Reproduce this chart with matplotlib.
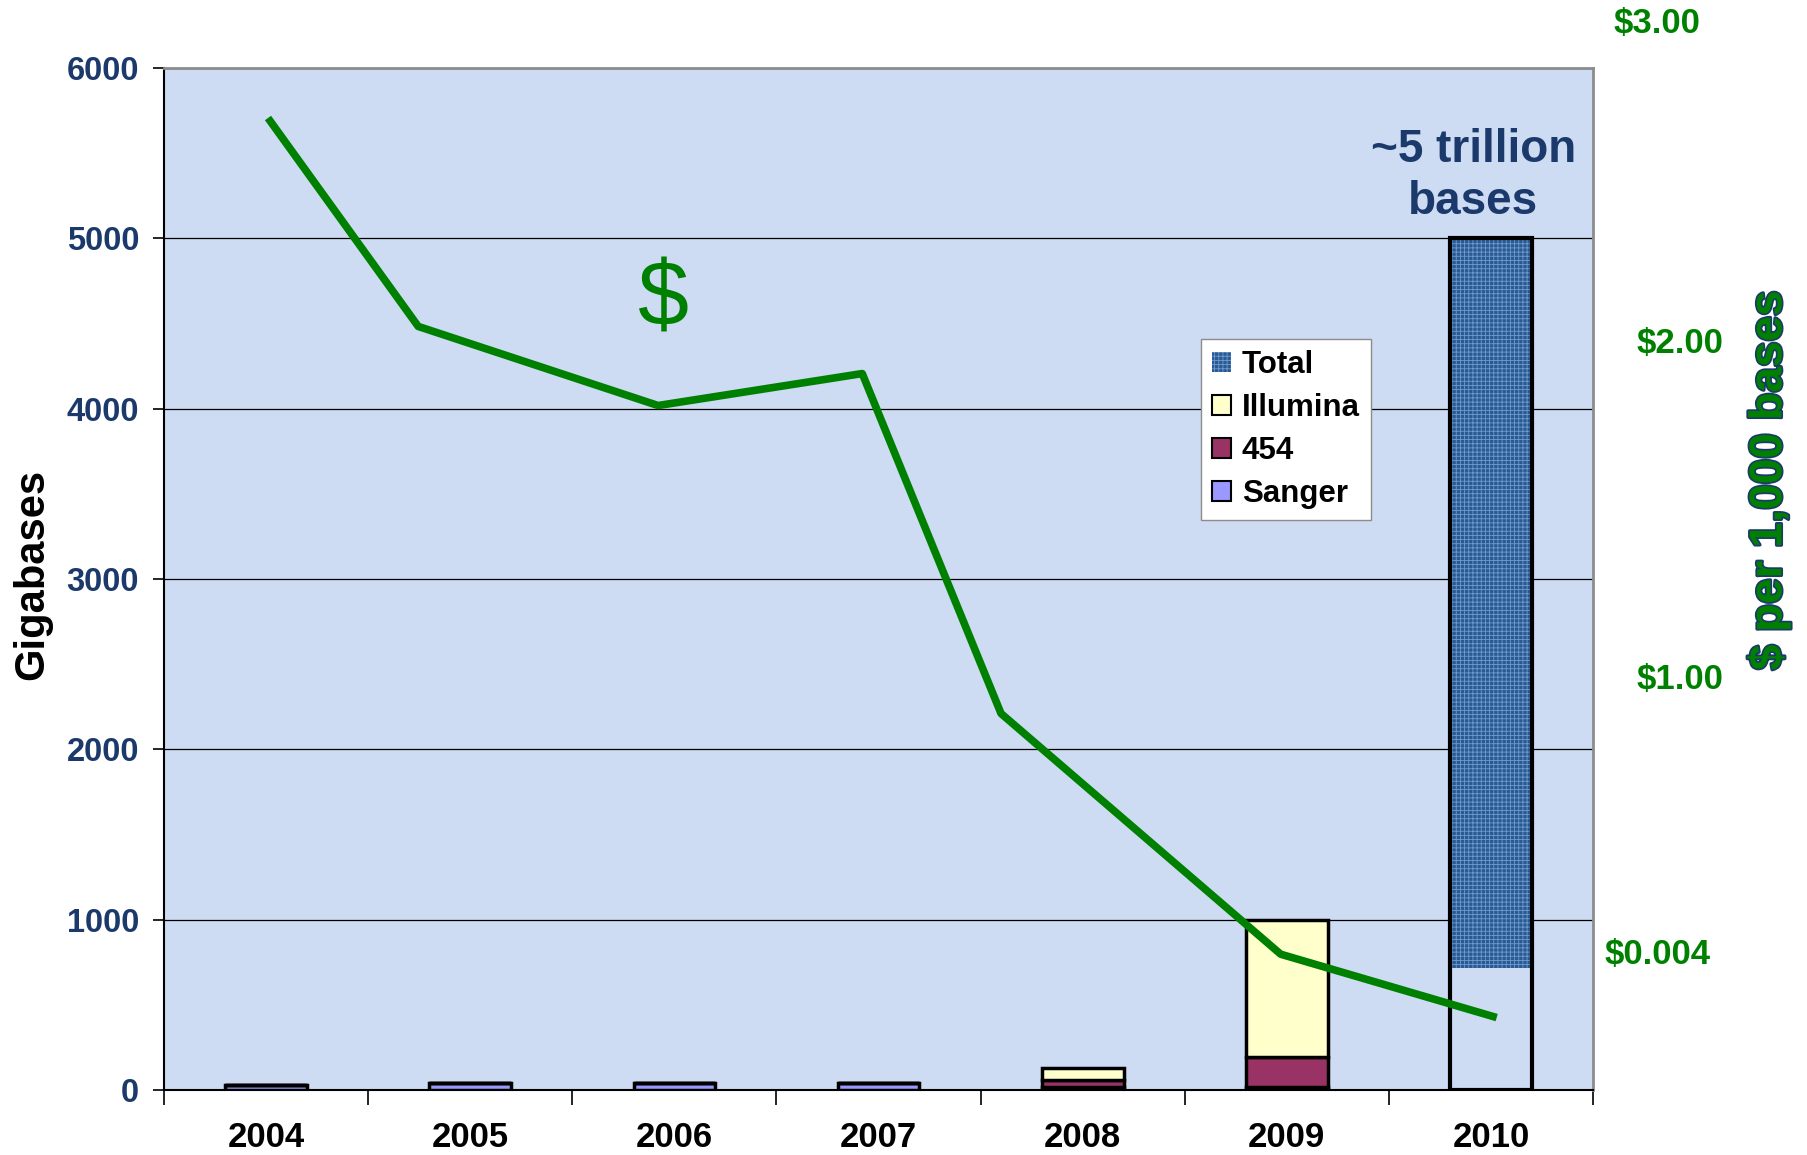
import matplotlib
matplotlib.use('Agg')
import matplotlib.pyplot as plt
import matplotlib.patheffects as pe
from matplotlib.patches import Patch
from matplotlib.ticker import FixedLocator

# sequencing output (gigabases), stacked by platform
years = ['2004', '2005', '2006', '2007', '2008', '2009', '2010']
sanger = [30, 40, 40, 44, 18, 18, 0]
gs454 = [0, 0, 0, 0, 40, 175, 0]
illumina = [0, 0, 0, 0, 71, 807, 0]
total_2010 = 5000
total_fill_from = 720   # the textured fill only starts here in the original

# cost curve ($ per 1,000 bases), drawn at these category positions
cost_x = [0.02, 0.745, 1.92, 2.92, 3.6, 4.97, 6.01]
cost = [2.66, 2.05, 1.815, 1.91, 0.90, 0.185, 0.0]

# right-hand labels and where they sit on the cost scale
right_labels = ['$0.004', '$1.00', '$2.00', '$3.00']
right_label_pos = [0.185, 1.0, 2.0, 2.95]

NAVY = '#1b3a6b'
GREEN = '#008000'
SANGER_C = '#9999ff'
C454 = '#993366'
ILLUM_C = '#ffffcc'
TOTAL_C = '#2a5a92'

plt.rcParams['font.family'] = ['Liberation Sans', 'DejaVu Sans']
plt.rcParams['font.weight'] = 'bold'
plt.rcParams['hatch.linewidth'] = 0.6

fig = plt.figure(figsize=(18.07, 11.55), dpi=100)
ax = fig.add_axes([0.0908, 0.0561, 0.7908, 0.8851])
ax.set_facecolor('#cddcf3')

x = list(range(len(years)))
w = 0.4
bottom454 = sanger
bottomill = [a + b for a, b in zip(sanger, gs454)]
ax.bar(x, sanger, w, color=SANGER_C, edgecolor='black', linewidth=2.5, zorder=3)
ax.bar(x, gs454, w, bottom=bottom454, color=C454, edgecolor='black', linewidth=2.5, zorder=3)
ax.bar(x, illumina, w, bottom=bottomill, color=ILLUM_C, edgecolor='black', linewidth=2.5, zorder=3)

# 2010 total: textured fill plus full outline
ax.bar(6, total_2010 - total_fill_from, w, bottom=total_fill_from, color=TOTAL_C,
       edgecolor='#6f9ad0', hatch='++++', linewidth=0, zorder=3)
ax.bar(6, total_2010, w, facecolor='none', edgecolor='black', linewidth=3, zorder=4)

ax.set_xlim(-0.5, 6.5)
ax.set_ylim(0, 6000)
ax.set_yticks(range(0, 6001, 1000))
ax.yaxis.grid(True, color='black', linewidth=0.9)
ax.set_axisbelow(True)

ax.set_xticks(x)
ax.set_xticklabels(years)
ax.xaxis.set_minor_locator(FixedLocator([i - 0.5 for i in range(8)]))
ax.tick_params(axis='x', which='major', length=0, pad=22, labelsize=25)
ax.tick_params(axis='x', which='minor', length=11, width=1.2, direction='out', color='black')
ax.tick_params(axis='y', length=8, width=1.2, pad=10, labelsize=23.5, labelcolor=NAVY)

for s in ['top', 'right']:
    ax.spines[s].set_color('#8c8c8c')
    ax.spines[s].set_linewidth(2)
ax.spines['left'].set_linewidth(1.5)
ax.spines['bottom'].set_linewidth(1.5)

ax.set_ylabel('Gigabases', fontsize=30, fontweight='bold', color='black')
ax.yaxis.set_label_coords(-0.078, 0.505)

ax.text(5.914, 5365, '~5 trillion\nbases', ha='center', va='center', fontsize=33,
        fontweight='bold', color=NAVY, linespacing=1.22, zorder=5)
ax.text(1.947, 4628, '$', ha='center', va='center', fontsize=66, fontweight='normal',
        color=GREEN, zorder=5)

handles = [Patch(facecolor=TOTAL_C, edgecolor='#6f9ad0', hatch='++++', linewidth=0),
           Patch(facecolor=ILLUM_C, edgecolor='black', linewidth=1.5),
           Patch(facecolor=C454, edgecolor='black', linewidth=1.5),
           Patch(facecolor=SANGER_C, edgecolor='black', linewidth=1.5)]
leg = ax.legend(handles, ['Total', 'Illumina', '454', 'Sanger'], loc='upper left',
                bbox_to_anchor=(0.7258, 0.735), borderaxespad=0, fancybox=False,
                framealpha=1, edgecolor='#8c8c8c', handlelength=0.6,
                handleheight=0.6, handletextpad=0.35, labelspacing=0.42,
                borderpad=0.35, prop={'weight': 'bold', 'size': 22.5})
leg.set_zorder(6)

# cost line on its own scale
ax2 = ax.twinx()
ax2.set_ylim(-0.219, 2.818)
ax2.plot(cost_x, cost, color=GREEN, linewidth=5.5, zorder=5)
ax2.set_yticks([])
for s in ax2.spines.values():
    s.set_visible(False)

label_x = [1.045, 1.0605, 1.0605, 1.045]
for lx, pos, lab in zip(label_x, right_label_pos, right_labels):
    ax2.text(lx, pos, lab, transform=ax2.get_yaxis_transform(), ha='center', va='center',
             fontsize=25, fontweight='bold', color=GREEN, clip_on=False)

ax2.text(1.123, 0.597, '$ per 1,000 bases', transform=ax2.transAxes, rotation=90,
         ha='center', va='center', fontsize=33, fontweight='bold', color=GREEN,
         path_effects=[pe.withStroke(linewidth=2.5, foreground=NAVY)])

fig.savefig('out.png', dpi=100)
